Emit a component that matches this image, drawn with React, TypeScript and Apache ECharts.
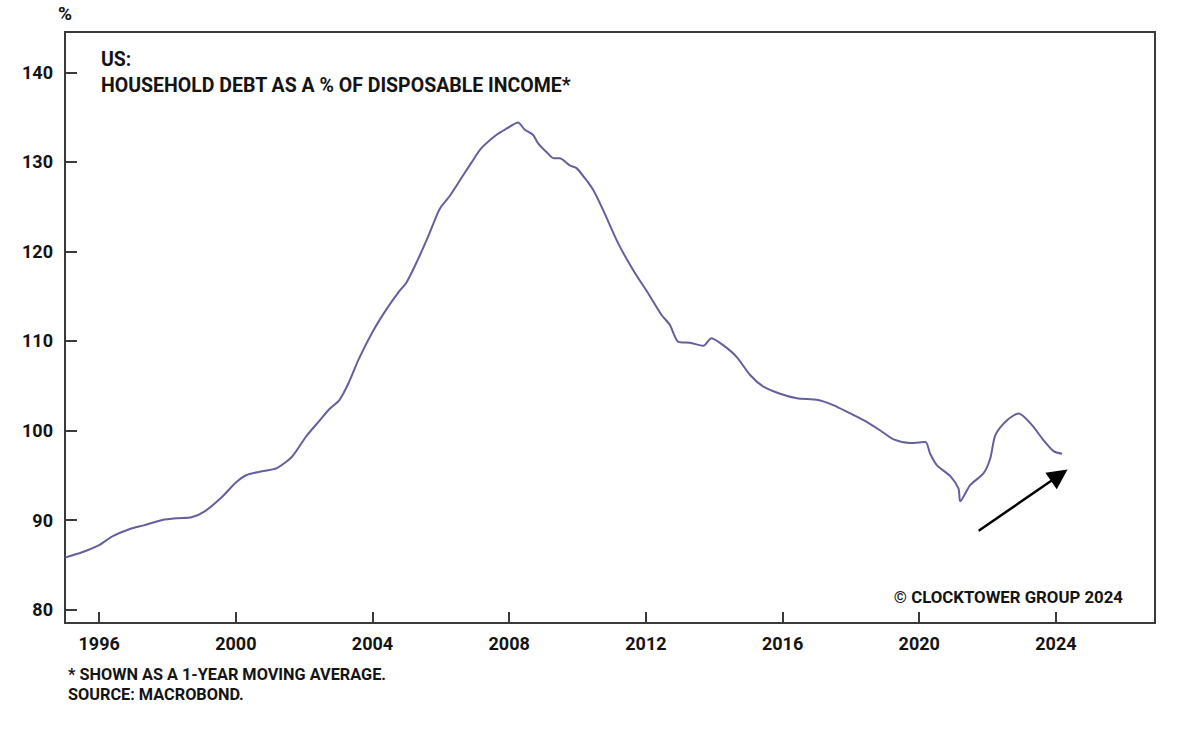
import React, { useEffect, useRef } from "react";
import * as echarts from "echarts";

const years: number[] = [
  1995.0, 1995.5, 1996.0, 1996.4, 1996.9, 1997.3, 1997.85, 1998.3, 1998.7, 1999.1,
  1999.6, 2000.0, 2000.3, 2000.7, 2001.2, 2001.65, 2002.05, 2002.45, 2002.74, 2003.03,
  2003.3, 2003.6, 2004.0, 2004.4, 2004.79, 2004.99, 2005.28, 2005.62, 2005.91, 2006.01,
  2006.28, 2006.62, 2006.91, 2007.18, 2007.62, 2007.92, 2008.26, 2008.45, 2008.7, 2008.84,
  2009.09, 2009.3, 2009.48, 2009.77, 2009.97, 2010.21, 2010.46, 2010.75, 2011.19, 2011.63,
  2012.07, 2012.46, 2012.7, 2012.95, 2013.29, 2013.68, 2013.92, 2014.27, 2014.66, 2015.05,
  2015.44, 2015.93, 2016.42, 2017.04, 2017.5, 2017.98, 2018.37, 2018.86, 2019.25, 2019.74,
  2020.18, 2020.32, 2020.52, 2020.91, 2021.15, 2021.2, 2021.49, 2021.88, 2022.08, 2022.23,
  2022.57, 2022.91, 2023.3, 2023.64, 2023.93, 2024.18,
];

const debtPct: number[] = [
  85.8, 86.4, 87.2, 88.2, 89.0, 89.4, 90.0, 90.2, 90.3, 91.0,
  92.6, 94.2, 95.0, 95.4, 95.8, 97.1, 99.3, 101.1, 102.4, 103.4,
  105.3, 108.0, 111.0, 113.5, 115.6, 116.5, 118.7, 121.6, 124.3, 125.0,
  126.3, 128.3, 130.0, 131.5, 133.0, 133.7, 134.4, 133.6, 133.0, 132.1,
  131.1, 130.4, 130.4, 129.6, 129.3, 128.2, 126.85, 124.6, 120.9, 117.9,
  115.3, 112.9, 111.8, 109.9, 109.8, 109.45, 110.3, 109.5, 108.2, 106.2,
  104.9, 104.1, 103.6, 103.4, 102.8, 101.9, 101.15, 100.0, 99.0, 98.6,
  98.7, 97.4, 96.1, 94.9, 93.5, 92.1, 93.9, 95.2, 96.9, 99.5,
  101.15, 101.9, 100.6, 98.9, 97.7, 97.4,
];

const xTicks: number[] = [1996, 2000, 2004, 2008, 2012, 2016, 2020, 2024];
const yTicks: number[] = [80, 90, 100, 110, 120, 130, 140];

const arrowFrom: number[] = [2021.74, 88.8];
const arrowTo: number[] = [2024.1, 95.0];

const titleLines: string[] = ["US:", "HOUSEHOLD DEBT AS A % OF DISPOSABLE INCOME*"];
const footnotes: string[] = ["* SHOWN AS A 1-YEAR MOVING AVERAGE.", "SOURCE: MACROBOND."];
const copyright = "© CLOCKTOWER GROUP 2024";

const FONT = "Roboto, 'Noto Sans', sans-serif";
const INK = "#141414";
const FRAME = "#3a3a3a";

export default function App() {
  const ref = useRef<HTMLDivElement>(null);

  useEffect(() => {
    if (!ref.current) return;
    const chart = echarts.init(ref.current, undefined, { renderer: "svg" });
    const seriesData = years.map((y, i) => [y, debtPct[i]]);

    chart.setOption({
      animation: false,
      backgroundColor: "#ffffff",
      grid: {
        left: 65,
        right: 33,
        top: 32,
        bottom: 107,
        show: true,
        borderColor: FRAME,
        borderWidth: 2,
      },
      xAxis: {
        type: "value",
        min: 1995,
        max: 2026.9,
        splitLine: { show: false },
        axisLine: { show: true, lineStyle: { color: FRAME, width: 2 } },
        axisTick: {
          show: true,
          inside: true,
          length: 11,
          customValues: xTicks,
          lineStyle: { color: FRAME, width: 2 },
        },
        axisLabel: {
          customValues: xTicks,
          formatter: (v: number) => String(Math.round(v)),
          color: INK,
          fontFamily: FONT,
          fontWeight: "bold",
          fontSize: 18,
          margin: 11,
        },
      },
      yAxis: {
        type: "value",
        min: 78.5,
        max: 144.5,
        name: "%",
        nameLocation: "end",
        nameGap: 9,
        nameTextStyle: {
          color: INK,
          fontFamily: FONT,
          fontWeight: "bold",
          fontSize: 19,
          align: "center",
        },
        splitLine: { show: false },
        axisLine: { show: true, lineStyle: { color: FRAME, width: 2 } },
        axisTick: {
          show: true,
          inside: true,
          length: 12,
          customValues: yTicks,
          lineStyle: { color: FRAME, width: 2 },
        },
        axisLabel: {
          customValues: yTicks,
          formatter: (v: number) => String(Math.round(v)),
          color: INK,
          fontFamily: FONT,
          fontWeight: "bold",
          fontSize: 18,
          margin: 12,
        },
      },
      series: [
        {
          type: "line",
          data: seriesData,
          showSymbol: false,
          smooth: 0.25,
          lineStyle: { color: "#645f9f", width: 2 },
          markLine: {
            silent: true,
            symbol: ["none", "triangle"],
            symbolSize: 20,
            label: { show: false },
            lineStyle: { color: "#000000", width: 2.5, type: "solid" },
            data: [[{ coord: arrowFrom }, { coord: arrowTo }]],
          },
        },
      ],
      graphic: [
        {
          type: "text",
          left: 101,
          top: 49,
          style: {
            text: titleLines[0],
            fill: INK,
            font: `bold 19.5px ${FONT}`,
          },
        },
        {
          type: "text",
          left: 101,
          top: 75,
          style: {
            text: titleLines[1],
            fill: INK,
            font: `bold 19.5px ${FONT}`,
          },
        },
        {
          type: "text",
          right: 65,
          top: 588,
          style: {
            text: copyright,
            fill: INK,
            font: `bold 16.8px ${FONT}`,
          },
        },
        {
          type: "text",
          left: 68,
          top: 666,
          style: {
            text: footnotes[0],
            fill: INK,
            font: `bold 16.3px ${FONT}`,
          },
        },
        {
          type: "text",
          left: 68,
          top: 686,
          style: {
            text: footnotes[1],
            fill: INK,
            font: `bold 16.3px ${FONT}`,
          },
        },
      ],
    });

    return () => chart.dispose();
  }, []);

  return (
    <div
      ref={ref}
      style={{ position: "absolute", left: 0, top: 0, width: 1188, height: 730 }}
    />
  );
}
